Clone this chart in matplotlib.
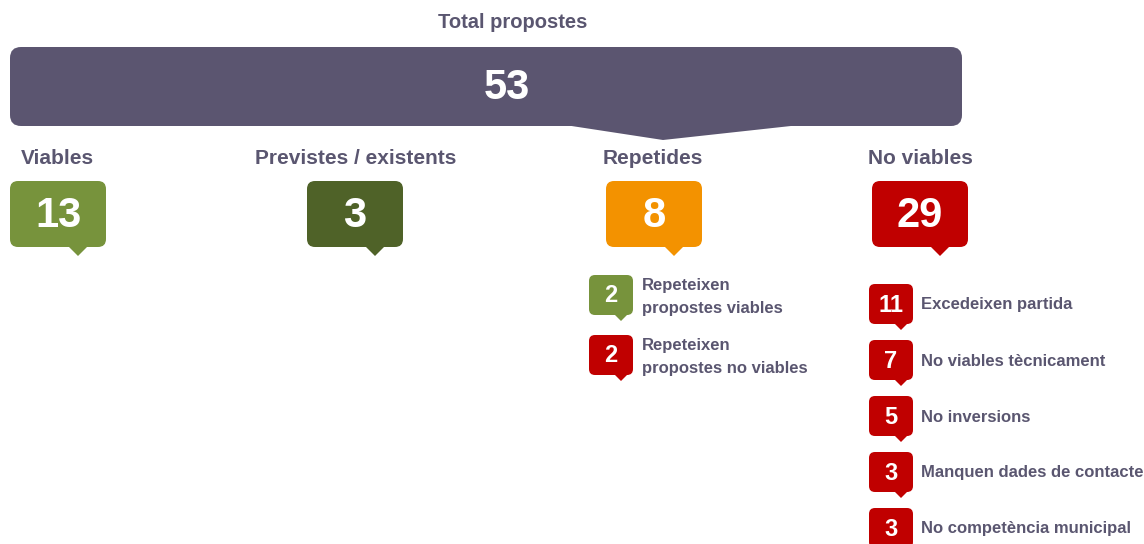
import matplotlib
matplotlib.use('Agg')
import matplotlib.pyplot as plt
from matplotlib.patches import FancyBboxPatch, Polygon

plt.rcParams['font.family'] = ['Liberation Sans', 'DejaVu Sans']
plt.rcParams['font.weight'] = 'bold'

# data
total_label = 'Total propostes'
total = 53
categories = ['Viables', 'Previstes / existents', 'Repetides', 'No viables']
counts = [13, 3, 8, 29]
repeat_labels = ['Repeteixen\npropostes viables', 'Repeteixen\npropostes no viables']
repeat_counts = [2, 2]
noviable_labels = ['Excedeixen partida', 'No viables tècnicament', 'No inversions',
                   'Manquen dades de contacte', 'No competència municipal']
noviable_counts = [11, 7, 5, 3, 3]

PURPLE = '#5b5570'
TEXT = '#5a5670'
cat_colors = ['#77933c', '#4f6228', '#f39200', '#c00000']
repeat_colors = ['#77933c', '#c00000']
RED = '#c00000'

fig = plt.figure(figsize=(11.44, 5.44), dpi=100)
ax = fig.add_axes([0, 0, 1, 1])
ax.set_xlim(0, 1144)
ax.set_ylim(544, 0)
ax.axis('off')


def callout(x0, y0, w, h, color, px, tri_w, tri_h, rad):
    box = FancyBboxPatch((x0 + rad, y0 + rad), w - 2 * rad, h - 2 * rad,
                         boxstyle='round,pad=%f' % rad, fc=color, ec='none')
    ax.add_patch(box)
    if tri_w > 0:
        tri = Polygon([(px - tri_w / 2, y0 + h - 1), (px, y0 + h + tri_h),
                       (px + tri_w / 2, y0 + h - 1)], closed=True, fc=color, ec='none')
        ax.add_patch(tri)


# total
ax.text(513, 22, total_label, ha='center', va='center', fontsize=14.5, color=TEXT)
callout(10, 47, 952, 79, PURPLE, 663, 0, 0, 11)
ax.add_patch(Polygon([(565, 125), (663, 140), (800, 125)], closed=True, fc=PURPLE, ec='none'))
ax.text(507, 88, str(total), ha='center', va='center', fontsize=30, color='white')

# categories
box_x = [10, 307, 606, 872]
head_x = [57, 356, 653, 920]
for i, cat in enumerate(categories):
    ax.text(head_x[i], 159, cat, ha='center', va='center', fontsize=15, color=TEXT)
    callout(box_x[i], 181, 96, 66, cat_colors[i], box_x[i] + 68, 20, 9, 8)
    ax.text(box_x[i] + 48, 216, str(counts[i]), ha='center', va='center',
            fontsize=30, color='white')

# repetides breakdown
for i, (lab, n) in enumerate(zip(repeat_labels, repeat_counts)):
    y0 = 275 + i * 60
    callout(589, y0, 44, 40, repeat_colors[i], 621, 14, 6, 6)
    ax.text(611, y0 + 21, str(n), ha='center', va='center', fontsize=17, color='white')
    ax.text(642, y0 + 22, lab, ha='left', va='center', fontsize=12, color=TEXT,
            linespacing=1.65)

# no viables breakdown
for i, (lab, n) in enumerate(zip(noviable_labels, noviable_counts)):
    y0 = 284 + i * 56
    callout(869, y0, 44, 40, RED, 901, 14, 6, 6)
    ax.text(891, y0 + 21, str(n), ha='center', va='center', fontsize=17, color='white')
    ax.text(921, y0 + 21, lab, ha='left', va='center', fontsize=12, color=TEXT)

fig.savefig('out.png', dpi=100)
